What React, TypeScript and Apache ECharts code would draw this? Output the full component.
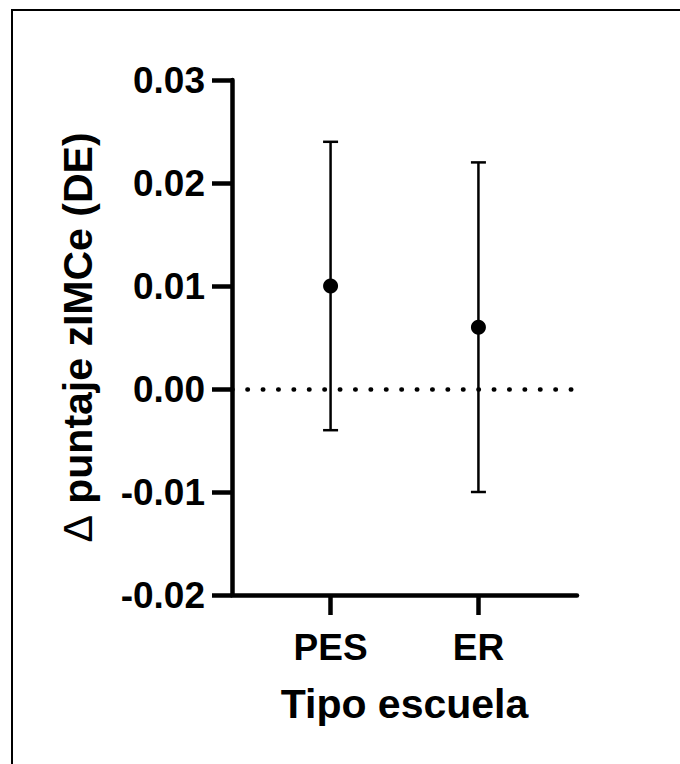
import React, { useEffect, useRef } from "react";
import * as echarts from "echarts";

const categories = ["PES", "ER"];
const categoryPositions = [1, 2];
const means = [0.01, 0.006];
const upperCI = [0.024, 0.022];
const lowerCI = [-0.004, -0.01];
const yMin = -0.02;
const yMax = 0.03;
const yStep = 0.01;
const xName = "Tipo escuela";
const yName = "{d|Δ} puntaje zIMCe (DE)";

export default function App() {
  const ref = useRef<HTMLDivElement>(null);
  useEffect(() => {
    if (!ref.current) return;
    const chart = echarts.init(ref.current, null, { renderer: "svg" });
    const font = "'Liberation Sans', Arial, sans-serif";
    const errData = categoryPositions.map((x, i) => [x, lowerCI[i], upperCI[i]]);
    const pointData = categoryPositions.map((x, i) => [x, means[i]]);
    chart.setOption({
      animation: false,
      backgroundColor: "#fff",
      graphic: [
        {
          type: "rect",
          shape: { x: 12, y: 10, width: 720, height: 820 },
          style: { fill: "none", stroke: "#000", lineWidth: 2 },
          silent: true,
        },
      ],
      grid: { left: 232, right: 103, top: 80, bottom: 169 },
      xAxis: {
        type: "value",
        min: 1 / 3,
        max: 8 / 3,
        name: xName,
        nameLocation: "middle",
        nameGap: 88,
        nameTextStyle: { fontFamily: font, fontWeight: "bold", fontSize: 41, color: "#000" },
        axisLine: { show: true, onZero: false, lineStyle: { color: "#000", width: 4.5 } },
        axisTick: { show: true, length: 20, customValues: categoryPositions, lineStyle: { color: "#000", width: 4.5 } },
        axisLabel: {
          customValues: categoryPositions,
          margin: 34,
          fontFamily: font,
          fontWeight: "bold",
          fontSize: 37,
          color: "#000",
          formatter: (v: number) => categories[Math.round(v) - 1] ?? "",
        },
        splitLine: { show: false },
      },
      yAxis: {
        type: "value",
        min: yMin,
        max: yMax,
        interval: yStep,
        name: yName,
        nameLocation: "middle",
        nameGap: 134,
        nameTextStyle: {
          fontFamily: font,
          fontWeight: "bold",
          fontSize: 41,
          color: "#000",
          rich: { d: { fontFamily: font, fontWeight: "normal", fontSize: 41, color: "#000" } },
        },
        axisLine: { show: true, lineStyle: { color: "#000", width: 4.5 } },
        axisTick: { show: true, length: 20, lineStyle: { color: "#000", width: 4.5 } },
        axisLabel: {
          margin: 27,
          fontFamily: font,
          fontWeight: "bold",
          fontSize: 37,
          color: "#000",
          formatter: (v: number) => v.toFixed(2),
        },
        splitLine: { show: false },
      },
      series: [
        {
          type: "custom",
          data: errData,
          z: 3,
          renderItem: (params: any, api: any) => {
            const x = api.value(0);
            const lo = api.coord([x, api.value(1)]);
            const hi = api.coord([x, api.value(2)]);
            const half = 7.5;
            const st = { stroke: "#000", lineWidth: 2.5 };
            return {
              type: "group",
              children: [
                { type: "line", shape: { x1: lo[0], y1: lo[1], x2: hi[0], y2: hi[1] }, style: st },
                { type: "line", shape: { x1: lo[0] - half, y1: lo[1], x2: lo[0] + half, y2: lo[1] }, style: st },
                { type: "line", shape: { x1: hi[0] - half, y1: hi[1], x2: hi[0] + half, y2: hi[1] }, style: st },
              ],
            };
          },
        },
        {
          type: "scatter",
          data: pointData,
          symbol: "circle",
          symbolSize: 15,
          z: 4,
          itemStyle: { color: "#000", opacity: 1 },
          markLine: {
            silent: true,
            symbol: ["none", "none"],
            label: { show: false },
            lineStyle: { color: "#000", width: 4.5, type: [0.5, 14.9], cap: "round", opacity: 1 },
            emphasis: { disabled: true },
            data: [{ yAxis: 0 }],
          },
        },
      ],
    });
    return () => chart.dispose();
  }, []);
  return (
    <div
      ref={ref}
      style={{ position: "fixed", left: 0, top: 0, width: 680, height: 764, background: "#fff" }}
    />
  );
}
